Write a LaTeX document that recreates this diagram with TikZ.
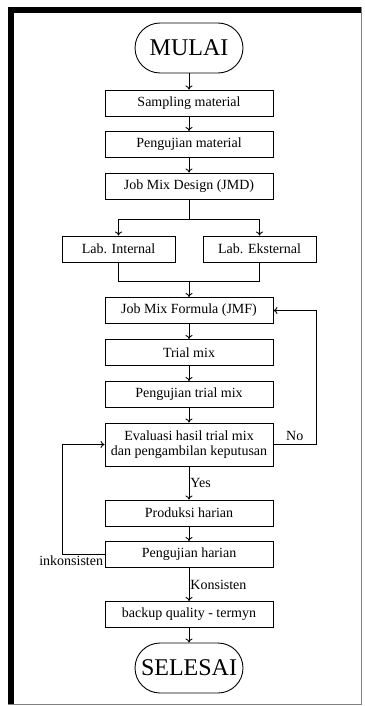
\documentclass[tikz,border=0pt]{standalone}
\usepackage{fontspec}
\setmainfont{Liberation Serif}
\usetikzlibrary{shapes,arrows,arrows.meta,positioning}

\begin{document}
\begin{tikzpicture}[x=1pt,y=-1pt,line width=0.9pt,>={To[length=4pt,width=7pt]},
	box/.style={rectangle,draw,minimum width=168pt,minimum height=26pt,inner sep=0pt,align=center,font=\fontsize{14}{15.5}\selectfont},
	term/.style={rectangle,draw,rounded corners=25pt,minimum width=108pt,minimum height=50pt,inner sep=0pt,font=\fontsize{24}{28}\selectfont},
	lab/.style={inner sep=1pt,font=\fontsize{14}{16}\selectfont}]

\useasboundingbox (0,0) rectangle (364,706);
% frame
\draw[gray] (8,7) rectangle (361,704);
\fill (8,7) rectangle (361,13);
\fill (8,7) rectangle (14,704);

\node[term] at (189,48) (mulai) {MULAI};
\node[box] at (189,103) (sampling) {Sampling material};
\node[box] at (189,144.5) (pengujian) {Pengujian material};
\node[box] at (189,186) (jmd) {Job Mix Design (JMD)};

\node[box,minimum width=113pt] at (118.5,249) (internal) {Lab. Internal};
\node[box,minimum width=113pt] at (259.5,249) (eksternal) {Lab. Eksternal};

\node[box] at (189,310.5) (jmf) {Job Mix Formula (JMF)};
\node[box] at (189,352.5) (trial) {Trial mix};
\node[box] at (189,394.5) (ujitrial) {Pengujian trial mix};
\node[box,minimum height=43pt] at (189,444.5) (evaluasi) {Evaluasi hasil trial mix\\dan pengambilan keputusan};
\node[box] at (189,513) (produksi) {Produksi harian};
\node[box] at (189,554.5) (ujiharian) {Pengujian harian};
\node[box] at (189,614.5) (backup) {backup quality - termyn};
\node[term] at (189,668) (selesai) {SELESAI};

\foreach \a/\b in {mulai/sampling,sampling/pengujian,pengujian/jmd,jmf/trial,trial/ujitrial,ujitrial/evaluasi,produksi/ujiharian,backup/selesai}
	\draw[->] (\a) -- (\b);

% split and merge
\coordinate (split) at (189,219);
\coordinate (merge) at (189,281);
\draw (jmd) -- (split);
\draw[->] (split) -| (internal);
\draw[->] (split) -| (eksternal);
\draw (internal) |- (merge);
\draw (eksternal) |- (merge);
\draw[->] (merge) -- (jmf);

\draw[->] (evaluasi) -- (produksi) node [midway,right,lab] {Yes};
\draw[->] (ujiharian) -- (backup) node [midway,right,lab] {Konsisten};

% loops
\coordinate (noturn) at (316,444.5);
\draw[->] (evaluasi.east) -- (noturn) node [midway,above=2pt,lab] {No} |- (jmf.east);
\coordinate (inturn) at (62,554.5);
\draw[->] (ujiharian.west) node [below left,lab] {inkonsisten} -- (inturn) |- (evaluasi.west);
\end{tikzpicture}
\end{document}
